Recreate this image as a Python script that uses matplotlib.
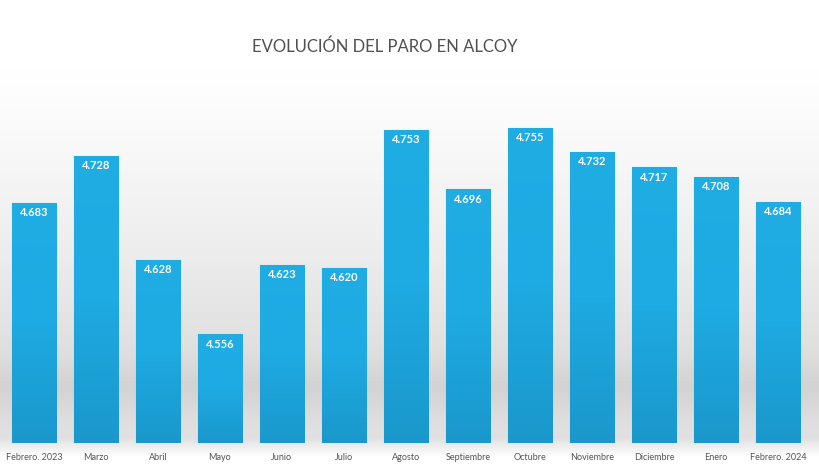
import numpy as np
import matplotlib
matplotlib.use("Agg")
import matplotlib.pyplot as plt
from matplotlib.colors import LinearSegmentedColormap

# Datos
meses = ["Febrero. 2023", "Marzo", "Abril", "Mayo", "Junio", "Julio", "Agosto",
         "Septiembre", "Octubre", "Noviembre", "Diciembre", "Enero", "Febrero. 2024"]
parados = [4683, 4728, 4628, 4556, 4623, 4620, 4753, 4696, 4755, 4732, 4717, 4708, 4684]
titulo = "EVOLUCIÓN DEL PARO EN ALCOY"

valores = np.array(parados) / 1000.0
x = np.arange(len(meses))

plt.rcParams['font.family'] = ['Lato', 'DejaVu Sans']

fig = plt.figure(figsize=(8.2, 4.72), dpi=100)

# Fondo degradado
bg = fig.add_axes([0, 0, 1, 1], zorder=0)
yy = np.linspace(0, 1, 472)
col = np.ones_like(yy)
col -= 0.12 * np.clip((yy - 0.1) / 0.62, 0, 1) ** 1.3
sombra = np.exp(-((yy - 0.82) / 0.06) ** 2) * 0.05
col -= sombra
col[yy > 0.93] = 1 - 0.12 * np.clip((0.97 - yy[yy > 0.93]) / 0.04, 0, 1)
img = np.repeat(col[:, None], 10, axis=1)
bg.imshow(img, cmap="gray", vmin=0, vmax=1, aspect="auto", extent=[0, 1, 1, 0])
bg.set_xlim(0, 1)
bg.set_ylim(1, 0)
bg.axis("off")

# Barras
h_fig = 472.0
ax = fig.add_axes([3 / 820, 1 - 443 / h_fig, 806 / 820, (443 - 100) / h_fig], zorder=1)
ax.patch.set_alpha(0)
ymin = 4.451
ymax = 4.556 + (334 - 100) / 1035.0
ax.set_xlim(-0.5, len(meses) - 0.5)
ax.set_ylim(ymin, ymax)

barras = ax.bar(x, valores, width=0.71, bottom=0, color="#1eaae2",
                edgecolor="#4cc0ec", linewidth=0.8)

cmap = LinearSegmentedColormap.from_list("azul", ["#1a98cb", "#1eaae2", "#1fade4"])
grad = np.linspace(0, 1, 256)[:, None]
for b, v in zip(barras, valores):
    im = ax.imshow(grad, cmap=cmap, aspect="auto", origin="lower",
                   extent=[b.get_x(), b.get_x() + b.get_width(), ymin, v], zorder=2)
    im.set_clip_path(b)
    ax.text(b.get_x() + b.get_width() / 2, v - 0.0095, f"{v:.3f}",
            ha="center", va="center", color="white", fontsize=8,
            fontweight="bold", zorder=3)

ax.set_xticks(x)
ax.set_xticklabels(meses, fontsize=6.5, color="#555555")
ax.tick_params(axis="x", length=0, pad=7)
ax.set_yticks([])
for s in ax.spines.values():
    s.set_visible(False)

fig.text(385 / 820, 1 - 47 / h_fig, titulo, ha="center", va="center",
         fontsize=12, color="#505050")

fig.savefig("out.png", dpi=100)
